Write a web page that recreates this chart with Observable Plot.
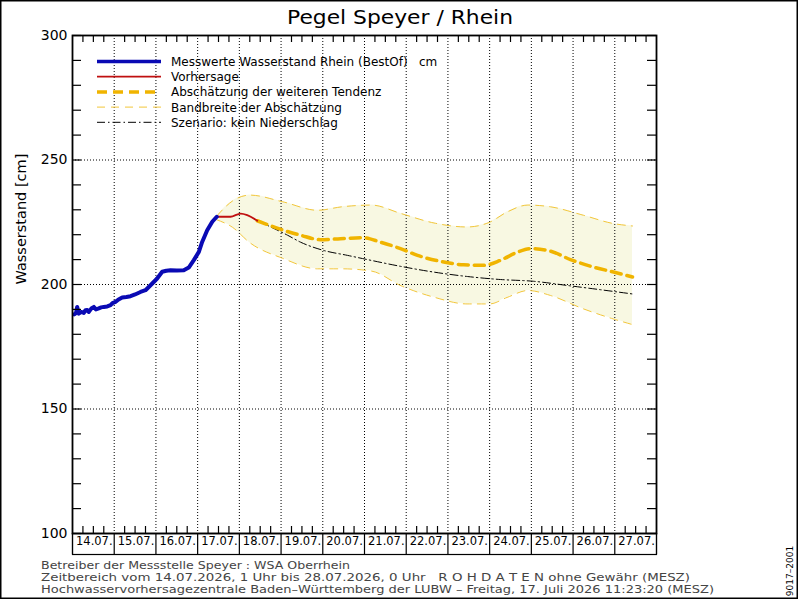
<!DOCTYPE html>
<html>
<head>
<meta charset="utf-8">
<script src="https://cdn.jsdelivr.net/npm/d3@7"></script>
<script src="https://cdn.jsdelivr.net/npm/@observablehq/plot@0.6"></script>
<style>
  html, body { margin: 0; padding: 0; background: white; }
  #chart svg { display: block; }
</style>
</head>
<body>
<div id="chart"></div>
<script>
// Time origin: 14.07.2026 00:00; all times below are hours after it
const T0 = Date.UTC(2026, 6, 14);
const toDate = h => new Date(T0 + h * 3600e3);

// Messwerte Wasserstand (cm)
const measHours  = [1, 2, 2.7, 3.6, 5, 6.5, 7.5, 8.5, 9.4, 11, 12.3, 13.5, 15.1, 16.5, 18, 20, 21.9, 23, 24.7, 26.5, 28.6, 31, 33.4, 36, 39.1, 42, 44.9, 48.7, 51.6, 54, 56.4, 60, 64, 66.9, 69.8, 72.7, 74.6, 77.5, 80.4, 83];
const measValues = [188, 188.5, 191, 188.3, 189, 188.6, 189.7, 189.8, 189, 190.5, 191, 190, 190.4, 190.8, 191, 191.2, 191.7, 192.5, 193, 194, 194.8, 195, 195.3, 196, 197, 197.7, 199.7, 202.4, 205.1, 205.5, 205.7, 205.6, 205.7, 206.8, 209.8, 213.1, 217.1, 221.8, 225.2, 227.2];

// Vorhersage
const fcHours  = [83, 90.9, 96.7, 100.5, 106.3];
const fcValues = [227.2, 227.2, 228.5, 227.9, 225.6];

// Abschätzung der weiteren Tendenz
const trendHours  = [106.3, 121.4, 131.2, 142.7, 154.2, 167.4, 177.2, 188.7, 198.5, 211.7, 225, 236.5, 246.2, 256, 263.5, 275, 286.5, 299.8, 311.3, 322.2];
const trendValues = [225.6, 221.8, 219.8, 218, 218.4, 218.8, 217, 214.4, 211.7, 209.3, 207.9, 207.7, 209.7, 213, 214.4, 213.4, 210, 207, 205, 203];

// Szenario: kein Niederschlag
const scenHours  = [106.3, 123.7, 131.2, 144.4, 158.2, 169.7, 188.7, 207.7, 227.3, 246.2, 265.2, 284.8, 303.8, 322.2];
const scenValues = [225.6, 219.8, 217, 213.7, 211.7, 210, 207.3, 205, 203.2, 202, 201.3, 199.6, 197.9, 196.2];

// Bandbreite der Abschätzung
const bandHours = [83, 92, 102, 121, 141, 155, 172, 189, 208, 227, 240, 250, 262, 275, 294, 311, 322.2];
const bandUpper = [227.5, 233.5, 235.9, 233.2, 229.8, 231.2, 231.9, 228.5, 224.7, 223.1, 225.0, 229.1, 231.9, 231.2, 227.8, 224.5, 223.5];
const bandLower = [226.0, 223.0, 216.8, 210.5, 206.3, 206.3, 205.4, 199.5, 194.9, 192.2, 192.2, 194.8, 197.6, 195.6, 190.2, 186.2, 183.9];

// Axis values
const yLabelTicks = [100, 150, 200, 250, 300];
const yGrid = [150, 200, 250];
const yMinor = d3.range(100, 301, 10);
const dayLabels = ["14.07.", "15.07.", "16.07.", "17.07.", "18.07.", "19.07.", "20.07.", "21.07.", "22.07.", "23.07.", "24.07.", "25.07.", "26.07.", "27.07."];

const legendItems = [
  {label: "Messwerte Wasserstand Rhein (BestOf)   cm", stroke: "#0a0ab4", width: 3.5, dash: null},
  {label: "Vorhersage", stroke: "#c01010", width: 1.8, dash: null},
  {label: "Abschätzung der weiteren Tendenz", stroke: "#f0b400", width: 3.5, dash: "10,6"},
  {label: "Bandbreite der Abschätzung", stroke: "#f2c63a", width: 1, dash: "8,6"},
  {label: "Szenario: kein Niederschlag", stroke: "#000", width: 1, dash: "8,3,1.5,3"}
];

const zip = (hs, vs) => hs.map((h, i) => ({t: toDate(h), v: vs[i]}));
const meas = zip(measHours, measValues);
const fc = zip(fcHours, fcValues);
const trend = zip(trendHours, trendValues);
const scen = zip(scenHours, scenValues);
const band = bandHours.map((h, i) => ({t: toDate(h), up: bandUpper[i], lo: bandLower[i]}));
const dayStarts = dayLabels.map((_, i) => toDate(24 * i));
const dayBounds = d3.range(0, 15).map(i => toDate(24 * i));
const innerDays = dayBounds.slice(1, 14);
const minorHours = d3.range(0, 14 * 24, 6).filter(h => h % 24 !== 0).map(toDate);

const W = 800, H = 600, mL = 72, mR = 144, mT = 35, mB = 67;
const fw = W - mL - mR, fh = H - mT - mB;
const FONT = "DejaVu Sans, sans-serif";

const chart = Plot.plot({
  width: W, height: H,
  marginLeft: mL, marginRight: mR, marginTop: mT, marginBottom: mB,
  x: {type: "utc", domain: [dayBounds[0], dayBounds[14]]},
  y: {domain: [100, 300]},
  style: {fontFamily: FONT, background: "white", color: "black"},
  marks: [
    Plot.areaY(band, {x: "t", y1: "lo", y2: "up", fill: "#f8f8e2", curve: "monotone-x"}),
    Plot.ruleY(yGrid, {stroke: "black", strokeDasharray: "1,2", strokeWidth: 1}),
    Plot.ruleX(innerDays, {stroke: "black", strokeDasharray: "1,2", strokeWidth: 1}),
    Plot.line(band, {x: "t", y: "up", stroke: "#f2c63a", strokeWidth: 1, strokeDasharray: "8,6", curve: "monotone-x"}),
    Plot.line(band, {x: "t", y: "lo", stroke: "#f2c63a", strokeWidth: 1, strokeDasharray: "8,6", curve: "monotone-x"}),
    Plot.line(scen, {x: "t", y: "v", stroke: "black", strokeWidth: 1, strokeDasharray: "8,3,1.5,3", curve: "monotone-x"}),
    Plot.line(trend, {x: "t", y: "v", stroke: "#f0b400", strokeWidth: 3.5, strokeDasharray: "10,6", curve: "monotone-x"}),
    Plot.line(fc, {x: "t", y: "v", stroke: "#c01010", strokeWidth: 1.8, curve: "monotone-x"}),
    Plot.line(meas, {x: "t", y: "v", stroke: "#0a0ab4", strokeWidth: 4, strokeLinejoin: "round"}),
    // minor ticks inside the frame
    Plot.tickY(yMinor, {y: d => d, stroke: "black", strokeWidth: 1.2, insetRight: fw - 9}),
    Plot.tickY(yMinor, {y: d => d, stroke: "black", strokeWidth: 1.2, insetLeft: fw - 9}),
    Plot.tickX(minorHours, {x: d => d, stroke: "black", strokeWidth: 1.2, insetBottom: fh - 7}),
    Plot.tickX(minorHours, {x: d => d, stroke: "black", strokeWidth: 1.2, insetTop: fh - 7}),
    Plot.axisY({ticks: yLabelTicks, tickSize: 0, tickPadding: 5, label: null, fontSize: 14, tickFormat: d3.format("d")}),
    Plot.axisX({ticks: [], label: null}),
    Plot.frame({stroke: "black", strokeWidth: 1.8}),
    // date label boxes below the frame
    Plot.frame({stroke: "black", strokeWidth: 1.2, insetTop: fh, insetBottom: -21}),
    Plot.tickX(dayBounds, {x: d => d, stroke: "black", strokeWidth: 1.2, insetTop: fh, insetBottom: -21}),
    Plot.text(dayStarts, {x: d => d, text: (d, i) => dayLabels[i], frameAnchor: "bottom", dy: 11, dx: 3.5, textAnchor: "start", fontSize: 11.5, fill: "black"}),
    Plot.text(["Wasserstand [cm]"], {frameAnchor: "left", dx: -51, rotate: -90, fontSize: 14.5, fill: "black"})
  ]
});

document.getElementById("chart").appendChild(chart);

const svg = d3.select(chart);
// outer border
svg.append("rect").attr("x", 0.75).attr("y", 0.75).attr("width", 796.5).attr("height", 597.5)
  .attr("fill", "none").attr("stroke", "black").attr("stroke-width", 1.5);

// title
svg.append("text").attr("x", 400).attr("y", 24).attr("text-anchor", "middle")
  .attr("font-family", FONT).attr("font-size", 20).attr("fill", "black")
  .attr("textLength", 226).attr("lengthAdjust", "spacingAndGlyphs")
  .text("Pegel Speyer / Rhein");

// legend
const lg = svg.append("g").attr("font-family", FONT).attr("font-size", 12).attr("fill", "black").attr("text-anchor", "start");
legendItems.forEach((it, i) => {
  const y = 61.5 + i * 15.2;
  lg.append("line").attr("x1", 97).attr("x2", 161).attr("y1", y).attr("y2", y)
    .attr("stroke", it.stroke).attr("stroke-width", it.width)
    .attr("stroke-dasharray", it.dash);
  lg.append("text").attr("x", 171).attr("y", y + 4.5).attr("text-anchor", "start").text(it.label);
});

// footer
const footer = [
  {t: "Betreiber der Messstelle Speyer : WSA Oberrhein", len: 309},
  {t: "Zeitbereich vom 14.07.2026, 1 Uhr bis 28.07.2026, 0 Uhr   R O H D A T E N ohne Gewähr (MESZ)", len: 649},
  {t: "Hochwasservorhersagezentrale Baden–Württemberg der LUBW – Freitag, 17. Juli 2026 11:23:20 (MESZ)", len: 673}
];
footer.forEach((f, i) => {
  svg.append("text").attr("x", 41).attr("y", 569 + i * 12.2).attr("text-anchor", "start")
    .attr("font-family", FONT).attr("font-size", 11.2).attr("fill", "#444")
    .attr("textLength", f.len).attr("lengthAdjust", "spacingAndGlyphs")
    .text(f.t);
});

// id code
svg.append("text").attr("transform", "translate(793,571) rotate(-90)").attr("text-anchor", "middle")
  .attr("font-family", FONT).attr("font-size", 9).attr("fill", "black")
  .text("9017–2001");
</script>
</body>
</html>
